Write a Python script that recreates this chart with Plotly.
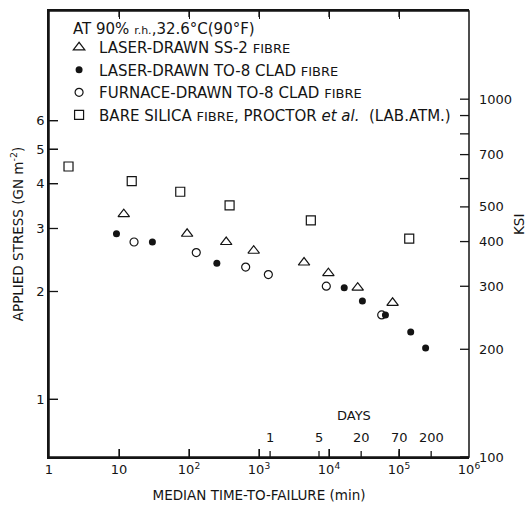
import math
import plotly.graph_objects as go

# ---------------- data ----------------
tri_time = [11.7, 94, 340, 840, 4400, 9800, 25700, 81000]
tri_stress = [3.29, 2.90, 2.75, 2.60, 2.41, 2.25, 2.05, 1.86]

filled_time = [9.2, 30, 250, 16500, 30000, 64000, 147000, 240000]
filled_stress = [2.90, 2.75, 2.40, 2.05, 1.88, 1.72, 1.54, 1.39]

open_time = [16.4, 127, 645, 1360, 9150, 56600]
open_stress = [2.75, 2.57, 2.34, 2.23, 2.07, 1.72]

bare_time = [1.9, 15.2, 75, 380, 5500, 140000]
bare_stress = [4.47, 4.07, 3.80, 3.48, 3.16, 2.81]

series_names = [
    "LASER-DRAWN SS-2 <span style='font-size:13px'>FIBRE</span>",
    "LASER-DRAWN TO-8 CLAD <span style='font-size:13px'>FIBRE</span>",
    "FURNACE-DRAWN TO-8 CLAD <span style='font-size:13px'>FIBRE</span>",
    "BARE SILICA <span style='font-size:13px'>FIBRE</span>, PROCTOR <i>et al.</i>  (LAB.ATM.)",
]

x_tickvals = [1, 10, 100, 1000, 10000, 100000, 1000000]
x_ticktext = ["1", "10", "10<sup>2</sup>", "10<sup>3</sup>", "10<sup>4</sup>",
              "10<sup>5</sup>", "10<sup>6</sup>"]
y_tickvals = [1, 2, 3, 4, 5, 6]
ksi_tickvals = [100, 200, 300, 400, 500, 600, 700, 800, 900, 1000]
ksi_ticktext = ["100", "200", "300", "400", "500", "", "700", "", "", "1000"]
days = [1, 5, 20, 70, 200]
MIN_PER_DAY = 1440
GN_TO_KSI = 145.04

stress_range = [100 / GN_TO_KSI, 12.16]   # GN m^-2
time_range = [1, 1e6]                     # min

FONT = "DejaVu Sans"
INK = "#141414"
PLOT_W, PLOT_H = 420, 446

fig = go.Figure()

fig.add_trace(go.Scatter(x=tri_time, y=tri_stress, name=series_names[0], mode="markers",
                         marker=dict(symbol="triangle-up-open", size=10, color=INK,
                                     line=dict(width=1.2, color=INK))))
fig.add_trace(go.Scatter(x=filled_time, y=filled_stress, name=series_names[1], mode="markers",
                         marker=dict(symbol="circle", size=7, color=INK, line=dict(width=0))))
fig.add_trace(go.Scatter(x=open_time, y=open_stress, name=series_names[2], mode="markers",
                         marker=dict(symbol="circle-open", size=8, color=INK,
                                     line=dict(width=1.2, color=INK))))
fig.add_trace(go.Scatter(x=bare_time, y=bare_stress, name=series_names[3], mode="markers",
                         marker=dict(symbol="square-open", size=9, color=INK,
                                     line=dict(width=1.2, color=INK))))

lx = [math.log10(v) for v in time_range]
ly = [math.log10(v) for v in stress_range]

tickfont = dict(family=FONT, size=13, color=INK)

fig.update_layout(
    template="none",
    width=528, height=507,
    margin=dict(l=49, r=59, t=11, b=50, autoexpand=False),
    paper_bgcolor="white", plot_bgcolor="white",
    font=dict(family=FONT, size=13, color=INK),
    showlegend=True,
    legend=dict(x=0.024, y=0.955, xanchor="left", yanchor="top",
                bgcolor="rgba(0,0,0,0)", borderwidth=0,
                font=dict(family=FONT, size=15, color=INK)),
    xaxis=dict(type="log", range=lx, tickvals=x_tickvals, ticktext=x_ticktext,
               ticks="inside", ticklen=8, tickwidth=1.3, tickcolor=INK,
               showline=True, linecolor=INK, linewidth=1.5, mirror="ticks",
               showgrid=False, zeroline=False, tickfont=tickfont,
               title=dict(text="MEDIAN TIME-TO-FAILURE (min)",
                          font=dict(family=FONT, size=13.5, color=INK), standoff=14)),
    yaxis=dict(type="log", range=ly, tickvals=y_tickvals,
               ticks="inside", ticklen=9, tickwidth=1.3, tickcolor=INK,
               showline=True, linecolor=INK, linewidth=1.5,
               showgrid=False, zeroline=False, tickfont=tickfont,
               title=dict(text="APPLIED STRESS (GN m<sup>-2</sup>)",
                          font=dict(family=FONT, size=13.5, color=INK), standoff=10)),
)

# ---- frame and tick marks as shapes (positions come from the tick arrays) ----
line = dict(color=INK, width=1.3)
shapes = [dict(type="rect", xref="paper", yref="paper", x0=0, x1=1, y0=0, y1=1,
               line=dict(color=INK, width=1.5), layer="above")]
for v in x_tickvals[1:-1]:
    shapes.append(dict(type="line", xref="x", yref="paper", x0=v, x1=v,
                       y0=0, y1=8 / PLOT_H, line=line))
    shapes.append(dict(type="line", xref="x", yref="paper", x0=v, x1=v,
                       y0=1, y1=1 - 6 / PLOT_H, line=line))
for d in days:
    v = d * MIN_PER_DAY
    shapes.append(dict(type="line", xref="x", yref="paper", x0=v, x1=v,
                       y0=0, y1=6 / PLOT_H, line=line))
for v in y_tickvals:
    shapes.append(dict(type="line", xref="paper", yref="y", x0=0, x1=9 / PLOT_W,
                       y0=v, y1=v, line=line))
for k in ksi_tickvals:
    g = k / GN_TO_KSI
    shapes.append(dict(type="line", xref="paper", yref="y", x0=1, x1=1 - 9 / PLOT_W,
                       y0=g, y1=g, line=line))
fig.update_layout(shapes=shapes)

annotations = [
    dict(text="AT 90% <span style='font-size:11px'>r.h.</span>,32.6°C(90°F)",
         xref="paper", yref="paper", x=(71 - 49) / PLOT_W, y=1 - (29 - 11) / PLOT_H,
         xanchor="left", yanchor="middle", showarrow=False,
         font=dict(family=FONT, size=15, color=INK)),
    dict(text="KSI", xref="paper", yref="paper", x=1 + (519 - 469) / PLOT_W,
         y=1 - (225 - 11) / PLOT_H, xanchor="center", yanchor="middle",
         textangle=-90, showarrow=False, font=dict(family=FONT, size=13.5, color=INK)),
    dict(text="DAYS", xref="x", yref="paper", x=math.log10(20 * MIN_PER_DAY) - 0.1,
         y=(457 - 415) / PLOT_H, xanchor="center", yanchor="middle", showarrow=False,
         font=dict(family=FONT, size=13, color=INK)),
]
for d in days:
    annotations.append(dict(text=str(d), xref="x", yref="paper",
                            x=math.log10(d * MIN_PER_DAY), y=(457 - 437) / PLOT_H,
                            xanchor="center", yanchor="middle", showarrow=False,
                            font=dict(family=FONT, size=13, color=INK)))
# right-hand KSI tick labels on the stress scale
for k, t in zip(ksi_tickvals, ksi_ticktext):
    if t:
        annotations.append(dict(text=t, xref="paper", yref="y",
                                x=1 + 8 / PLOT_W, y=math.log10(k / GN_TO_KSI),
                                xanchor="left", yanchor="middle", showarrow=False,
                                font=dict(family=FONT, size=13, color=INK)))
fig.update_layout(annotations=annotations)

# remove the browser's default 8px body margin so the figure fills the window
fig.write_html("out.html", post_script="document.body.style.margin='0';",
               config={"displayModeBar": False})
